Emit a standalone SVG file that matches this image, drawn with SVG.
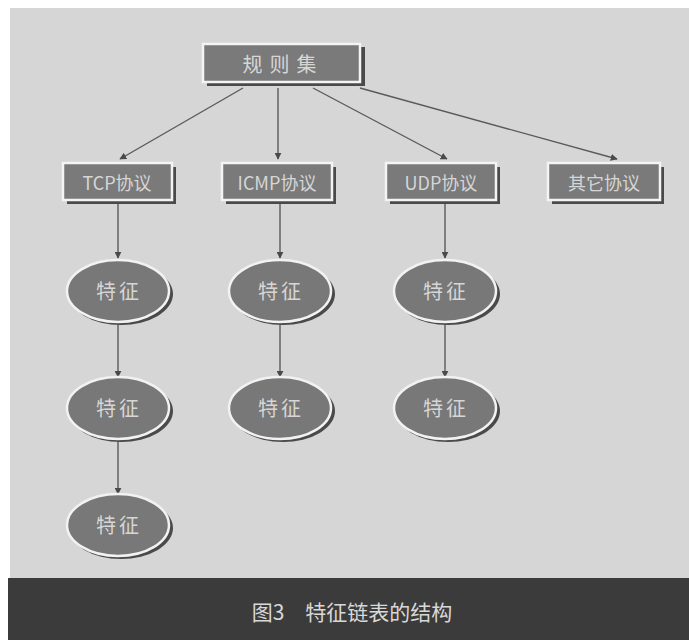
<svg xmlns="http://www.w3.org/2000/svg" width="689" height="640" viewBox="0 0 689 640">
<style>
.box{fill:#7a7a7a;stroke:#f4f4f4;stroke-width:2.5}
.shadow{fill:#4a4a4a}
.ell{fill:#787878;stroke:#f2f2f2;stroke-width:2.5}
.lbl{font-family:"Noto Sans CJK SC","Liberation Sans",sans-serif;font-size:18px;fill:#d6d6d6;text-anchor:middle;dominant-baseline:central}
.f{font-size:20px;letter-spacing:3px}
.conn{stroke:#5a5a5a;stroke-width:1.4;fill:none;marker-end:url(#ah)}
.cap{font-family:"Noto Sans CJK SC","Liberation Serif",serif;font-size:21px;fill:#d8d8d8;text-anchor:middle;dominant-baseline:central}
</style>
<defs>
<marker id="ah" viewBox="0 0 10 10" refX="9" refY="5" markerWidth="7" markerHeight="7" markerUnits="userSpaceOnUse" orient="auto"><path d="M0,0 L10,5 L0,10 z" fill="#4a4a4a"/></marker>
</defs>
<rect width="689" height="640" fill="#ffffff"/>
<rect x="10" y="8" width="679" height="570" fill="#d6d6d6"/>
<rect x="8" y="578" width="681" height="62" fill="#3b3b3b"/>
<text class="cap" x="352" y="611">图3　特征链表的结构</text>

<g id="connectors">
<line class="conn" x1="243" y1="88" x2="120" y2="159"/>
<line class="conn" x1="278" y1="88" x2="278" y2="159"/>
<line class="conn" x1="313" y1="88" x2="447" y2="159"/>
<line class="conn" x1="360" y1="88" x2="617" y2="159"/>
<line class="conn" x1="118" y1="201" x2="118" y2="258"/>
<line class="conn" x1="118" y1="323" x2="118" y2="377"/>
<line class="conn" x1="118" y1="440" x2="118" y2="494"/>
<line class="conn" x1="280" y1="201" x2="280" y2="258"/>
<line class="conn" x1="280" y1="323" x2="280" y2="377"/>
<line class="conn" x1="445" y1="201" x2="445" y2="258"/>
<line class="conn" x1="445" y1="323" x2="445" y2="377"/>
</g>

<g id="root">
<rect class="shadow" x="207" y="47" width="158" height="39"/>
<rect class="box" x="203" y="44" width="157" height="38"/>
<text class="lbl" x="283" y="63" style="font-size:20px;letter-spacing:7px">规则集</text>
</g>
<g id="tcp">
<rect class="shadow" x="67" y="167" width="109" height="37"/>
<rect class="box" x="63" y="163" width="109" height="37"/>
<text class="lbl" x="117" y="182">TCP协议</text>
</g>
<g id="icmp">
<rect class="shadow" x="226" y="167" width="110" height="37"/>
<rect class="box" x="222" y="163" width="110" height="37"/>
<text class="lbl" x="277" y="182">ICMP协议</text>
</g>
<g id="udp">
<rect class="shadow" x="390" y="167" width="110" height="37"/>
<rect class="box" x="386" y="163" width="110" height="37"/>
<text class="lbl" x="441" y="182">UDP协议</text>
</g>
<g id="other">
<rect class="shadow" x="552" y="167" width="112" height="37"/>
<rect class="box" x="548" y="163" width="112" height="37"/>
<text class="lbl" x="604" y="182">其它协议</text>
</g>

<g id="tcp-f1"><ellipse class="shadow" cx="121" cy="294" rx="52" ry="31"/><ellipse class="ell" cx="118" cy="291" rx="51" ry="31"/><text class="lbl f" x="119" y="290">特征</text></g>
<g id="tcp-f2"><ellipse class="shadow" cx="121" cy="411" rx="52" ry="31"/><ellipse class="ell" cx="118" cy="408" rx="51" ry="31"/><text class="lbl f" x="119" y="407">特征</text></g>
<g id="tcp-f3"><ellipse class="shadow" cx="121" cy="528" rx="52" ry="31"/><ellipse class="ell" cx="118" cy="525" rx="51" ry="31"/><text class="lbl f" x="119" y="524">特征</text></g>
<g id="icmp-f1"><ellipse class="shadow" cx="283" cy="294" rx="52" ry="31"/><ellipse class="ell" cx="280" cy="291" rx="51" ry="31"/><text class="lbl f" x="281" y="290">特征</text></g>
<g id="icmp-f2"><ellipse class="shadow" cx="283" cy="411" rx="52" ry="31"/><ellipse class="ell" cx="280" cy="408" rx="51" ry="31"/><text class="lbl f" x="281" y="407">特征</text></g>
<g id="udp-f1"><ellipse class="shadow" cx="448" cy="294" rx="52" ry="31"/><ellipse class="ell" cx="445" cy="291" rx="51" ry="31"/><text class="lbl f" x="446" y="290">特征</text></g>
<g id="udp-f2"><ellipse class="shadow" cx="448" cy="411" rx="52" ry="31"/><ellipse class="ell" cx="445" cy="408" rx="51" ry="31"/><text class="lbl f" x="446" y="407">特征</text></g>
</svg>
